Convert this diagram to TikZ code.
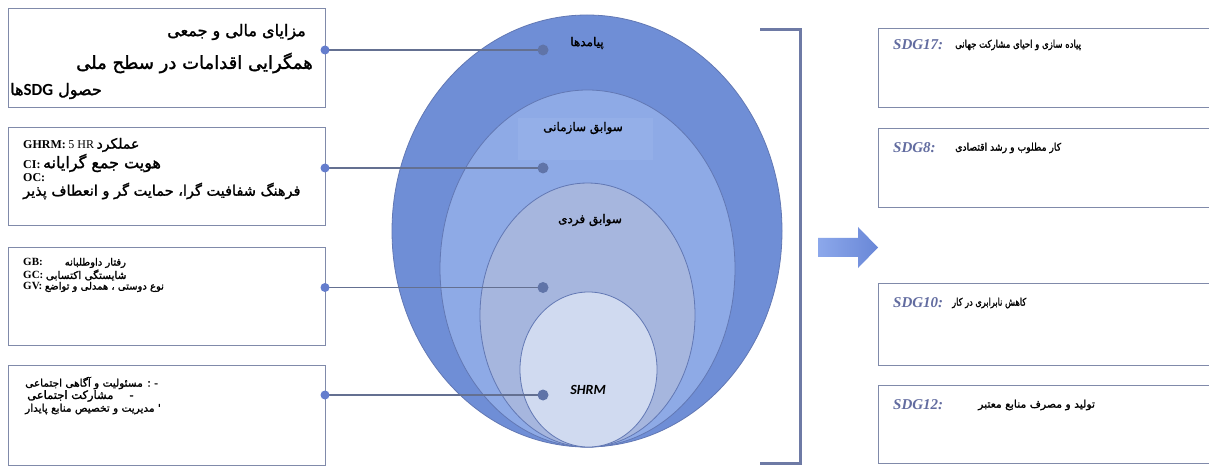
\documentclass[tikz,border=0pt]{standalone}
\usepackage{fontspec}
\usepackage{graphicx}
\usetikzlibrary{shapes.geometric}
\setmainfont{Liberation Serif}
\newfontfamily\fa[Script=Arabic]{DejaVu Sans}
\newfontfamily\fab[Script=Arabic,FakeBold=1.6]{DejaVu Sans}
\newfontfamily\calfont{Carlito}
\TeXXeTstate=1
\newcommand{\myR}[1]{\beginR#1\endR}
\definecolor{ringA}{RGB}{111,142,214}
\definecolor{ringB}{RGB}{142,170,230}
\definecolor{ringBl}{RGB}{148,175,232}
\definecolor{ringC}{RGB}{166,182,222}
\definecolor{ringD}{RGB}{208,218,240}
\definecolor{ringedge}{RGB}{98,120,180}
\definecolor{boxedge}{RGB}{128,138,170}
\definecolor{conn}{RGB}{100,112,145}
\definecolor{dotc}{RGB}{96,116,168}
\definecolor{dotl}{RGB}{100,125,205}
\definecolor{sdgc}{RGB}{98,108,160}
\definecolor{brk}{RGB}{110,122,165}
\definecolor{arrowl}{RGB}{140,168,235}
\definecolor{arrowr}{RGB}{105,135,215}
\tikzset{
  ring/.style={ellipse, draw=ringedge, line width=0.8pt, inner sep=0pt, outer sep=0pt},
  lbox/.style={draw=boxedge, line width=1.2pt, fill=white, anchor=north west, inner sep=0pt, minimum width=317pt},
  rbox/.style={draw=boxedge, line width=1.2pt, fill=white, anchor=north west, inner sep=0pt, minimum width=340pt},
  txt/.style={inner sep=0pt, text=black},
  elab/.style={inner sep=0pt, text=black, font=\fab\fontsize{12}{14}\selectfont},
  conn/.style={draw=conn, line width=1.8pt},
  sdg/.style={inner sep=0pt, anchor=west, text=sdgc, font=\fontsize{15}{17}\selectfont\bfseries\itshape},
  rtxt/.style={inner sep=0pt, anchor=west, font=\fab\fontsize{10.5}{12}\selectfont},
}
\begin{document}
\begin{tikzpicture}[x=1pt,y=-1pt]
\useasboundingbox (0,0) rectangle (1209,470);
\fill[white] (0,0) rectangle (1209,470);

% nested ellipses
\node[ring, fill=ringA, minimum width=390pt, minimum height=432pt] (e1) at (587,231) {};
\node[ring, fill=ringB, minimum width=295pt, minimum height=357pt] (e2) at (587.5,268.5) {};
\fill[ringBl] (518,118) rectangle (653,160);
\node[ring, fill=ringC, minimum width=215pt, minimum height=264pt] (e3) at (587.5,315) {};
\node[ring, fill=ringD, minimum width=137pt, minimum height=155pt] (e4) at (588.5,369.5) {};

\node[elab] (l1) at (587,43) {\myR{پیامدها}};
\node[elab] (l2) at (583,128) {\myR{سوابق سازمانی}};
\node[elab] (l3) at (590,220) {\myR{سوابق فردی}};
\node[txt, font=\calfont\fontsize{14}{16}\selectfont\bfseries\itshape] (l4) at (588,390) {SHRM};

% left boxes
\node[lbox, minimum height=99pt] (b1) at (8,8) {};
\node[lbox, minimum height=98pt] (b2) at (8,127) {};
\node[lbox, minimum height=98pt] (b3) at (8,247) {};
\node[lbox, minimum height=100pt] (b4) at (8,365) {};

% box 1 text
\node[txt, anchor=east, font=\fab\fontsize{16}{18}\selectfont] (t1a) at (306,32) {\myR{مزایای مالی و جمعی}};
\node[txt, anchor=east, font=\fab\fontsize{18}{19}\selectfont] (t1b) at (313,63) {\myR{همگرایی اقدامات در سطح ملی}};
\node[txt, anchor=west, font=\fab\fontsize{16}{18}\selectfont] (t1c) at (10,91) {ها{\calfont\bfseries\fontsize{17}{18}\selectfont SDG}\ حصول};

% box 2 text
\node[txt, anchor=west] (t2a) at (23,145) {{\fontsize{12}{13}\selectfont\bfseries GHRM:} {\fontsize{12}{13}\selectfont 5 HR} {\fab\fontsize{14}{15}\selectfont\myR{عملکرد}}};
\node[txt, anchor=west] (t2b) at (23,163) {{\fontsize{12}{13}\selectfont\bfseries CI:} {\fab\fontsize{16}{17}\selectfont\myR{هویت جمع گرایانه}}};
\node[txt, anchor=west, font=\fontsize{12}{13}\selectfont\bfseries] (t2c) at (23,178) {OC:};
\node[txt, anchor=west, font=\fab\fontsize{14.5}{15}\selectfont] (t2d) at (23,191) {\myR{فرهنگ شفافیت گرا، حمایت گر و انعطاف پذیر}};

% box 3 text
\node[txt, anchor=west] (t3a) at (23,263) {{\fontsize{11}{12}\selectfont\bfseries GB:}\hspace{22pt}{\fab\fontsize{10}{11}\selectfont\myR{رفتار داوطلبانه}}};
\node[txt, anchor=west] (t3b) at (23,275) {{\fontsize{11}{12}\selectfont\bfseries GC:} {\fab\fontsize{10.5}{11}\selectfont\myR{شایستگی اکتسابی}}};
\node[txt, anchor=west] (t3c) at (23,287) {{\fontsize{11}{12}\selectfont\bfseries GV:} {\fab\fontsize{10}{11}\selectfont\myR{نوع دوستی ، همدلی و تواضع}}};

% box 4 text
\node[txt, anchor=west, font=\fab\fontsize{10.5}{12}\selectfont] (t4a) at (25,383) {\myR{- : مسئولیت و آگاهی اجتماعی}};
\node[txt, anchor=west, font=\fab\fontsize{11.5}{12}\selectfont] (t4b) at (27,396) {\myR{-\hspace{16pt}مشارکت اجتماعی}};
\node[txt, anchor=west, font=\fab\fontsize{10.5}{12}\selectfont] (t4c) at (25,409) {\myR{' مدیریت و تخصیص منابع پایدار}};

% connectors
\coordinate (p1) at (325,50);  \coordinate (q1) at (543,50);
\coordinate (p2) at (325,168); \coordinate (q2) at (543,168);
\coordinate (p3) at (325,287.5); \coordinate (q3) at (543,287.5);
\coordinate (p4) at (325,395); \coordinate (q4) at (543,395);
\foreach \i in {1,2,3,4}{
  \draw[conn] (p\i) -- (q\i);
  \fill[dotl] (p\i) circle[radius=4.5pt];
  \fill[dotc] (q\i) circle[radius=5.5pt];
}

% bracket
\coordinate (k1) at (760,30); \coordinate (k2) at (800,30);
\coordinate (k3) at (800,463); \coordinate (k4) at (760,463);
\draw[brk, line width=3pt, line join=miter] (k1) -- (k2) -- (k3) -- (k4);

% block arrow
\shade[left color=arrowl, right color=arrowr] (818,238) -- (858,238) -- (858,227) -- (878,247.5) -- (858,268) -- (858,257) -- (818,257) -- cycle;

% right boxes
\node[rbox, minimum height=79pt] (s17) at (878,28) {};
\node[rbox, minimum height=79pt] (s8) at (878,128) {};
\node[rbox, minimum height=82pt] (s10) at (878,283) {};
\node[rbox, minimum height=78pt] (s12) at (878,385) {};

\node[sdg] (g17) at (893,45) {SDG17:};
\node[rtxt] (r17) at (955,45) {\scalebox{0.81}[1]{\myR{پیاده سازی و احیای مشارکت جهانی}}};
\node[sdg] (g8) at (893,148) {SDG8:};
\node[rtxt] (r8) at (955,148) {\scalebox{0.88}[1]{\myR{کار مطلوب و رشد اقتصادی}}};
\node[sdg] (g10) at (893,303) {SDG10:};
\node[rtxt] (r10) at (952,303) {\scalebox{0.78}[1]{\myR{کاهش نابرابری در کار}}};
\node[sdg] (g12) at (893,405) {SDG12:};
\node[rtxt] (r12) at (978,405) {\scalebox{1.03}[1]{\myR{تولید و مصرف منابع معتبر}}};
\end{tikzpicture}
\end{document}
